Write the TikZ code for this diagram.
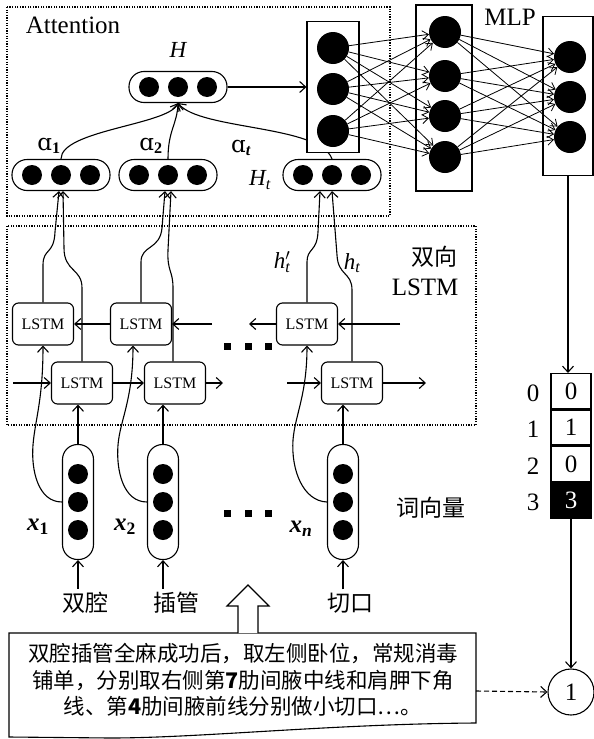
\RequirePackage{fix-cm}
\documentclass[tikz,border=0pt]{standalone}
\usepackage{amsmath,amssymb,bm}
\usepackage{fontspec}
\setmainfont{Liberation Serif}
\newfontfamily\cjk{Noto Sans CJK SC}
\newfontfamily\ipa{DejaVu Serif}
\usetikzlibrary{arrows.meta}

\tikzset{
  arr/.style={-{Straight Barb[length=6pt,width=11pt]},line width=1.1pt},
  thinarr/.style={-{Straight Barb[length=6pt,width=9pt]},line width=0.8pt},
  dotn/.style={circle,fill=black,inner sep=0pt,minimum size=20pt},
  bigdot/.style={circle,fill=black,inner sep=0pt,minimum size=32pt},
  hpill/.style={draw,line width=1.1pt,rounded corners=15pt,minimum width=98pt,minimum height=31pt,inner sep=0pt},
  vpill/.style={draw,line width=1.1pt,rounded corners=15pt,minimum width=31pt,minimum height=115pt,inner sep=0pt},
  lstmbox/.style={draw,line width=1.1pt,rounded corners=6pt,minimum width=61pt,minimum height=42pt,inner sep=0pt,font=\fontsize{16}{19}\selectfont},
  mlpbox/.style={draw,line width=1.1pt,fill=white,inner sep=0pt},
  region/.style={dash pattern=on 1.2pt off 1.4pt,line width=1.2pt},
  vcell/.style={draw,line width=1.1pt,minimum width=40pt,minimum height=35pt,inner sep=0pt,font=\fontsize{25}{30}\selectfont},
  lbl/.style={font=\fontsize{25}{30}\selectfont},
  mlbl/.style={font=\fontsize{23}{27}\selectfont},
  xlbl/.style={font=\fontsize{25}{29}\selectfont\bfseries\itshape},
  zh/.style={font=\fontsize{23}{28}\selectfont\cjk},
}

\begin{document}
\begin{tikzpicture}[x=1pt,y=-1pt]
\useasboundingbox (0,0) rectangle (594,739);

% Dotted regions
\draw[region] (7,7) rectangle (390,216);
\draw[region] (7,226) rectangle (476,425);
\node[lbl] (attn) at (73,25) {Attention};

% Attention vectors
\foreach \nm/\cx/\cy in {H/178/87,A1/61/175,A2/168/175,At/332/175}{
    \node[hpill] (\nm) at (\cx,\cy) {};
    \foreach \k in {1,2,3}
        \node[dotn] (\nm\k) at (\cx+\k*29-58,\cy) {};
}
\node[mlbl] (Hlbl) at (178,50) {\itshape H};
\node[mlbl] (a1lbl) at (49,146) {{\ipa ɑ}\textsubscript{\bfseries 1}};
\node[mlbl] (a2lbl) at (151,146) {{\ipa ɑ}\textsubscript{\bfseries 2}};
\node[mlbl] (atlbl) at (241,148) {{\ipa ɑ}\textsubscript{\bfseries\itshape t}};
\node[mlbl] (Htlbl) at (260,180) {{\itshape H}\textsubscript{\itshape t}};
\draw[arr] (A1.north) .. controls (61,130) and (168,125) .. (H.south);
\draw[arr] (A2.north) .. controls (168,130) and (177,125) .. (H.south);
\draw[arr] (At.north) .. controls (320,125) and (200,130) .. (H.south);

% MLP
\node[mlpbox,minimum width=52pt,minimum height=131pt] (inL) at (333,87) {};
\node[mlpbox,minimum width=56pt,minimum height=186pt] (hidL) at (444,98) {};
\node[mlpbox,minimum width=50pt,minimum height=159pt] (outL) at (568,96) {};
\node[lbl] (mlp) at (510,17) {MLP};
\foreach \k/\y in {1/48,2/89,3/131} \node[bigdot] (I\k) at (333,\y) {};
\foreach \k/\y in {1/32,2/76,3/116,4/157} \node[bigdot] (M\k) at (445,\y) {};
\foreach \k/\y in {1/57,2/97,3/137} \node[bigdot] (O\k) at (570,\y) {};
\foreach \i in {1,2,3} {
    \foreach \j in {1,...,4} {
        \draw[thinarr] (I\i) -- (M\j);
    }
}
\foreach \j in {1,...,4} {
    \foreach \k in {1,2,3} {
        \draw[thinarr] (M\j) -- (O\k);
    }
}
\draw[arr] (H.east) -- (inL.west);

% One-hot output
\foreach \k/\val in {0/0,1/1,2/0}
    \node[vcell] (C\k) at (571,391+\k*36.5) {\val};
\node[vcell,fill=black,text=white] (C3) at (571,500.5) {3};
\foreach \k in {0,...,3}
    \node[lbl] (idx\k) at (533,393+\k*36.5) {\k};
\draw[arr] (outL.south) -- (outL.south |- C0.north);
\node[draw,circle,line width=1.1pt,minimum size=46pt,inner sep=0pt,lbl] (res) at (571,692) {1};
\draw[arr] (C3.south) -- (res.north);

% BiLSTM
\foreach \nm/\cx in {LB1/43,LB2/141,LB3/307}
    \node[lstmbox] (\nm) at (\cx,324) {LSTM};
\foreach \nm/\cx in {LF1/82,LF2/175,LF3/352}
    \node[lstmbox] (\nm) at (\cx,383) {LSTM};
\coordinate (bIn2) at (212,324);
\coordinate (bOut3) at (249,324);
\coordinate (bIn3) at (400,324);
\coordinate (fIn1) at (13,383);
\coordinate (fOut2) at (223,383);
\coordinate (fIn3) at (287,383);
\coordinate (fOut3) at (426,383);
\draw[arr] (LB2) -- (LB1);
\draw[arr] (bIn2) -- (LB2);
\draw[arr] (LB3) -- (bOut3);
\draw[arr] (bIn3) -- (LB3);
\draw[arr] (fIn1) -- (LF1);
\draw[arr] (LF1) -- (LF2);
\draw[arr] (LF2) -- (fOut2);
\draw[arr] (fIn3) -- (LF3);
\draw[arr] (LF3) -- (fOut3);
\foreach \y in {346,513} {
    \foreach \x in {227,248,268} {
        \fill (\x-3.5,\y-3.5) rectangle ++(7,7);
    }
}
\node[mlbl] (hbl) at (282,262) {{\itshape h}\rlap{$'$}\textsubscript{\itshape t}};
\node[mlbl] (hfl) at (352,263) {{\itshape h}\textsubscript{\itshape t}};
\node[zh,anchor=east] (bidir) at (461,257) {双向};
\node[lbl,anchor=east] (bidirL) at (462,287) {LSTM};

% LSTM outputs to attention
\draw[arr] (LB1.north) -- (43,265) .. controls (43,248) and (54,255) .. (55,232) -- ([xshift=-2pt]A1.south);
\draw[arr] (LF1.north) -- (82,288) .. controls (82,268) and (64,272) .. (64,248) -- ([xshift=2pt]A1.south);
\draw[arr] (LB2.north) -- (141,262) .. controls (141,245) and (160,250) .. (162,228) -- ([xshift=-3pt]A2.south);
\draw[arr] ([xshift=-2pt]LF2.north) -- (173,288) .. controls (173,270) and (167,272) .. (168,250) -- ([xshift=3pt]A2.south);
\draw[arr] (LB3.north) -- (307,262) .. controls (307,248) and (317,252) .. (318,232) -- ([xshift=-12pt]At.south);
\draw[arr] (LF3.north) -- (352,290) .. controls (352,272) and (338,276) .. (337,255) -- (At.south);

% Word vectors
\foreach \nm/\cx in {X1/78,X2/163,X3/343}{
    \node[vpill] (\nm) at (\cx,502) {};
    \foreach \k in {1,2,3}
        \node[dotn] (\nm\k) at (\cx,502+\k*28-56) {};
}
\node[xlbl] (x1lbl) at (38,527) {x\textsubscript{\upshape 1}};
\node[xlbl] (x2lbl) at (125,527) {x\textsubscript{\upshape 2}};
\node[xlbl] (xnlbl) at (301,529) {x\textsubscript{n}};
\node[zh] (wv) at (431,508) {词向量};
\node[zh] (w1) at (85,603) {双腔};
\node[zh] (w2) at (176,603) {插管};
\node[zh] (w3) at (350,603) {切口};
\draw[arr] (X1.south |- w1.north) -- (X1.south);
\draw[arr] (X2.south |- w2.north) -- (X2.south);
\draw[arr] (X3.south |- w3.north) -- (X3.south);
\draw[arr] (X1.north) -- (X1.north |- LF1.south);
\draw[arr] (X2.north) -- (X2.north |- LF2.south);
\draw[arr] (X3.north) -- (X3.north |- LF3.south);
\draw[arr] (X1.west) .. controls (38,502) and (31,470) .. (33,445) .. controls (35,420) and (43,400) .. (LB1.south);
\draw[arr] (X2.west) .. controls (123,502) and (116,470) .. (118,445) .. controls (120,420) and (133,400) .. ([xshift=-8pt]LB2.south);
\draw[arr] (X3.west) .. controls (303,501) and (291,470) .. (293,440) .. controls (295,415) and (307,395) .. (LB3.south);

% Sentence
\draw[line width=1.1pt] (9,633) -- (476,633) -- (476,723) .. controls (330,724) and (200,738) .. (110,738) -- (9,737) -- cycle;
\node[font=\fontsize{21.5}{26.5}\selectfont\cjk,align=center] (doc) at (243,680) {双腔插管全麻成功后，取左侧卧位，常规消毒\\铺单，分别取右侧第\textbf{7}肋间腋中线和肩胛下角\\线、第\textbf{4}肋间腋前线分别做小切口…。};
\draw[line width=1.1pt,fill=white] (238,633) -- (238,606) -- (227,606) -- (248,585) -- (269,606) -- (258,606) -- (258,633);
\coordinate (docR) at (476,691);
\draw[arr,dash pattern=on 5pt off 3pt] (docR) -- (res.west);
\end{tikzpicture}
\end{document}
